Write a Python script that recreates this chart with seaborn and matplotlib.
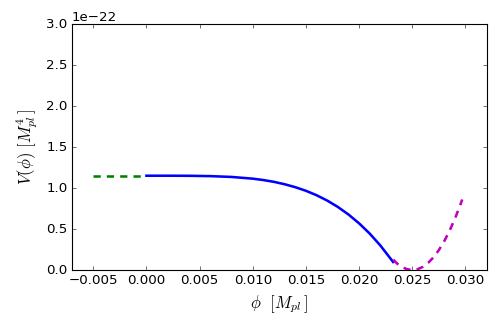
import matplotlib
matplotlib.use("Agg")
import matplotlib.pyplot as plt
import seaborn as sns
import pandas as pd
import numpy as np

# Data (V in units of 1e-22 M_pl^4)
green_phi = [-0.005, 0.0]
green_V = [1.15, 1.15]

blue_phi = [0.0, 0.002, 0.004, 0.006, 0.008, 0.010, 0.011, 0.012, 0.013, 0.014,
            0.015, 0.016, 0.017, 0.018, 0.019, 0.020, 0.021, 0.022, 0.0232]
blue_V = [1.15, 1.15, 1.149, 1.145, 1.135, 1.114, 1.097, 1.075, 1.046, 1.010,
          0.966, 0.912, 0.847, 0.769, 0.677, 0.569, 0.444, 0.299, 0.098]

mag_phi = [0.0232, 0.0236, 0.0240, 0.0245, 0.0250, 0.0255, 0.0260, 0.0265, 0.0270,
           0.0275, 0.0280, 0.0285, 0.0290, 0.0295, 0.0297]
mag_V = [0.126, 0.076, 0.039, 0.0097, 0.0, 0.0097, 0.039, 0.0875, 0.156,
         0.243, 0.35, 0.477, 0.622, 0.788, 0.86]

scale = 1e-22

plt.style.use("classic")
plt.rcParams["figure.facecolor"] = "white"
plt.rcParams["savefig.facecolor"] = "white"
plt.rcParams["font.family"] = ["DejaVu Sans"]
plt.rcParams["mathtext.fontset"] = "cm"
plt.rcParams["lines.scale_dashes"] = False

fig = plt.figure(figsize=(6.225, 4.15), dpi=80)
ax = fig.add_axes([0.1446, 0.1867, 0.8327, 0.741])

dg = pd.DataFrame({"phi": green_phi, "V": np.array(green_V) * scale})
db = pd.DataFrame({"phi": blue_phi, "V": np.array(blue_V) * scale})
dm = pd.DataFrame({"phi": mag_phi, "V": np.array(mag_V) * scale})

dash = (0, (6.5, 5.5))
sns.lineplot(data=dg, x="phi", y="V", ax=ax, color="g", lw=2.3, linestyle=dash, sort=False)
sns.lineplot(data=db, x="phi", y="V", ax=ax, color="b", lw=2.3, sort=False)
sns.lineplot(data=dm, x="phi", y="V", ax=ax, color="m", lw=2.3, linestyle=dash, sort=False)

ax.set_xlim(-0.007, 0.032)
ax.set_ylim(0, 3e-22)
ax.set_xticks([-0.005, 0.0, 0.005, 0.010, 0.015, 0.020, 0.025, 0.030])
ax.set_yticks(np.array([0.0, 0.5, 1.0, 1.5, 2.0, 2.5, 3.0]) * scale)
ax.set_xlabel(r"$\phi\ \ [M_{pl}\,]$", fontsize=15)
ax.set_ylabel(r"$V(\phi)\ [M_{pl}^4\,]$", fontsize=15, labelpad=6)

fig.savefig("out.png", dpi=80)
